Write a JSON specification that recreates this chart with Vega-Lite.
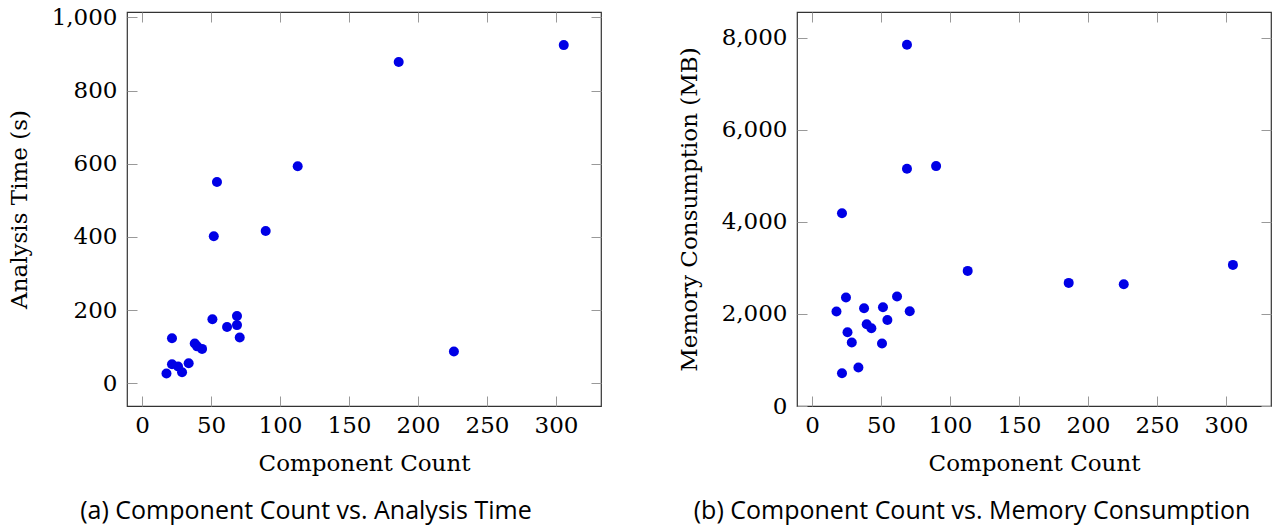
{
  "$schema": "https://vega.github.io/schema/vega-lite/v6.json",
  "background": "white",
  "padding": {"left": 7, "top": 5, "right": 0, "bottom": 0},
  "spacing": 74,
  "config": {
    "view": {"stroke": "#333", "strokeWidth": 1.2},
    "axis": {
      "labelFont": "DejaVu Serif", "labelFontSize": 23, "labelColor": "#000",
      "titleFont": "DejaVu Serif", "titleFontSize": 23, "titleColor": "#000", "titleFontWeight": "normal",
      "grid": false, "domain": false, "tickSize": -10, "tickColor": "#999", "tickWidth": 1, "labelPadding": 20
    },
    "title": {"font": "Open Sans", "fontSize": 25, "fontWeight": "normal", "color": "#000"}
  },
  "hconcat": [
    {
      "width": 474, "height": 394,
      "title": {"text": "(a) Component Count vs. Analysis Time", "orient": "bottom", "anchor": "middle", "dx": -58, "offset": 24},
      "data": {"values": [
        {"components": 17.7, "time": 27},
        {"components": 21.7, "time": 123},
        {"components": 21.7, "time": 52},
        {"components": 26.1, "time": 46},
        {"components": 29, "time": 30},
        {"components": 33.8, "time": 55},
        {"components": 38.2, "time": 109},
        {"components": 39.9, "time": 101},
        {"components": 43.5, "time": 94},
        {"components": 51, "time": 175},
        {"components": 52, "time": 402},
        {"components": 54.3, "time": 550},
        {"components": 61.6, "time": 154},
        {"components": 68.8, "time": 184},
        {"components": 68.8, "time": 159},
        {"components": 70.8, "time": 125},
        {"components": 89.6, "time": 416},
        {"components": 112.8, "time": 593},
        {"components": 186, "time": 878},
        {"components": 226, "time": 87},
        {"components": 305.6, "time": 924}
      ]},
      "layer": [
        {
          "mark": {"type": "circle", "opacity": 0},
          "encoding": {
            "x": {"field": "components", "type": "quantitative", "scale": {"domain": [-10.9, 332.6], "nice": false, "zero": false},
                  "axis": {"orient": "top", "values": [0, 50, 100, 150, 200, 250, 300], "labels": false, "title": null}},
            "y": {"field": "time", "type": "quantitative", "scale": {"domain": [-62, 1014.5], "nice": false, "zero": false},
                  "axis": {"orient": "right", "values": [0, 200, 400, 600, 800, 1000], "labels": false, "title": null}}
          }
        },
        {
          "mark": {"type": "circle", "size": 100, "color": "#0000e6", "opacity": 1},
          "encoding": {
            "x": {"field": "components", "type": "quantitative",
                  "axis": {"orient": "bottom", "values": [0, 50, 100, 150, 200, 250, 300], "format": ".0f", "labelPadding": 18, "title": "Component Count", "titlePadding": 15}},
            "y": {"field": "time", "type": "quantitative",
                  "axis": {"orient": "left", "values": [0, 200, 400, 600, 800, 1000], "format": ",.0f", "title": "Analysis Time (s)", "titlePadding": 20}}
          }
        }
      ],
      "resolve": {"axis": {"x": "independent", "y": "independent"}}
    },
    {
      "width": 474, "height": 394,
      "title": {"text": "(b) Component Count vs. Memory Consumption", "orient": "bottom", "anchor": "middle", "dx": -62, "offset": 24},
      "data": {"values": [
        {"components": 17.7, "memory": 2052},
        {"components": 21.7, "memory": 4189},
        {"components": 21.7, "memory": 711},
        {"components": 24.6, "memory": 2357},
        {"components": 25.7, "memory": 1602},
        {"components": 28.8, "memory": 1378},
        {"components": 33.6, "memory": 835},
        {"components": 37.7, "memory": 2124},
        {"components": 39.6, "memory": 1776},
        {"components": 43, "memory": 1689},
        {"components": 50.7, "memory": 1357},
        {"components": 51.4, "memory": 2146},
        {"components": 54.6, "memory": 1870},
        {"components": 61.6, "memory": 2378},
        {"components": 68.8, "memory": 7848},
        {"components": 68.8, "memory": 5152},
        {"components": 70.8, "memory": 2059},
        {"components": 89.9, "memory": 5211},
        {"components": 112.8, "memory": 2935},
        {"components": 186, "memory": 2674},
        {"components": 225.9, "memory": 2646},
        {"components": 305, "memory": 3065}
      ]},
      "layer": [
        {
          "mark": {"type": "circle", "opacity": 0},
          "encoding": {
            "x": {"field": "components", "type": "quantitative", "scale": {"domain": [-10.9, 332.6], "nice": false, "zero": false},
                  "axis": {"orient": "top", "values": [0, 50, 100, 150, 200, 250, 300], "labels": false, "title": null}},
            "y": {"field": "memory", "type": "quantitative", "scale": {"domain": [0, 8559], "nice": false, "zero": false},
                  "axis": {"orient": "right", "values": [0, 2000, 4000, 6000, 8000], "labels": false, "title": null}}
          }
        },
        {
          "mark": {"type": "circle", "size": 100, "color": "#0000e6", "opacity": 1},
          "encoding": {
            "x": {"field": "components", "type": "quantitative",
                  "axis": {"orient": "bottom", "values": [0, 50, 100, 150, 200, 250, 300], "format": ".0f", "labelPadding": 18, "title": "Component Count", "titlePadding": 15}},
            "y": {"field": "memory", "type": "quantitative",
                  "axis": {"orient": "left", "values": [0, 2000, 4000, 6000, 8000], "format": ",.0f", "title": "Memory Consumption (MB)", "titlePadding": 20}}
          }
        }
      ],
      "resolve": {"axis": {"x": "independent", "y": "independent"}}
    }
  ]
}
